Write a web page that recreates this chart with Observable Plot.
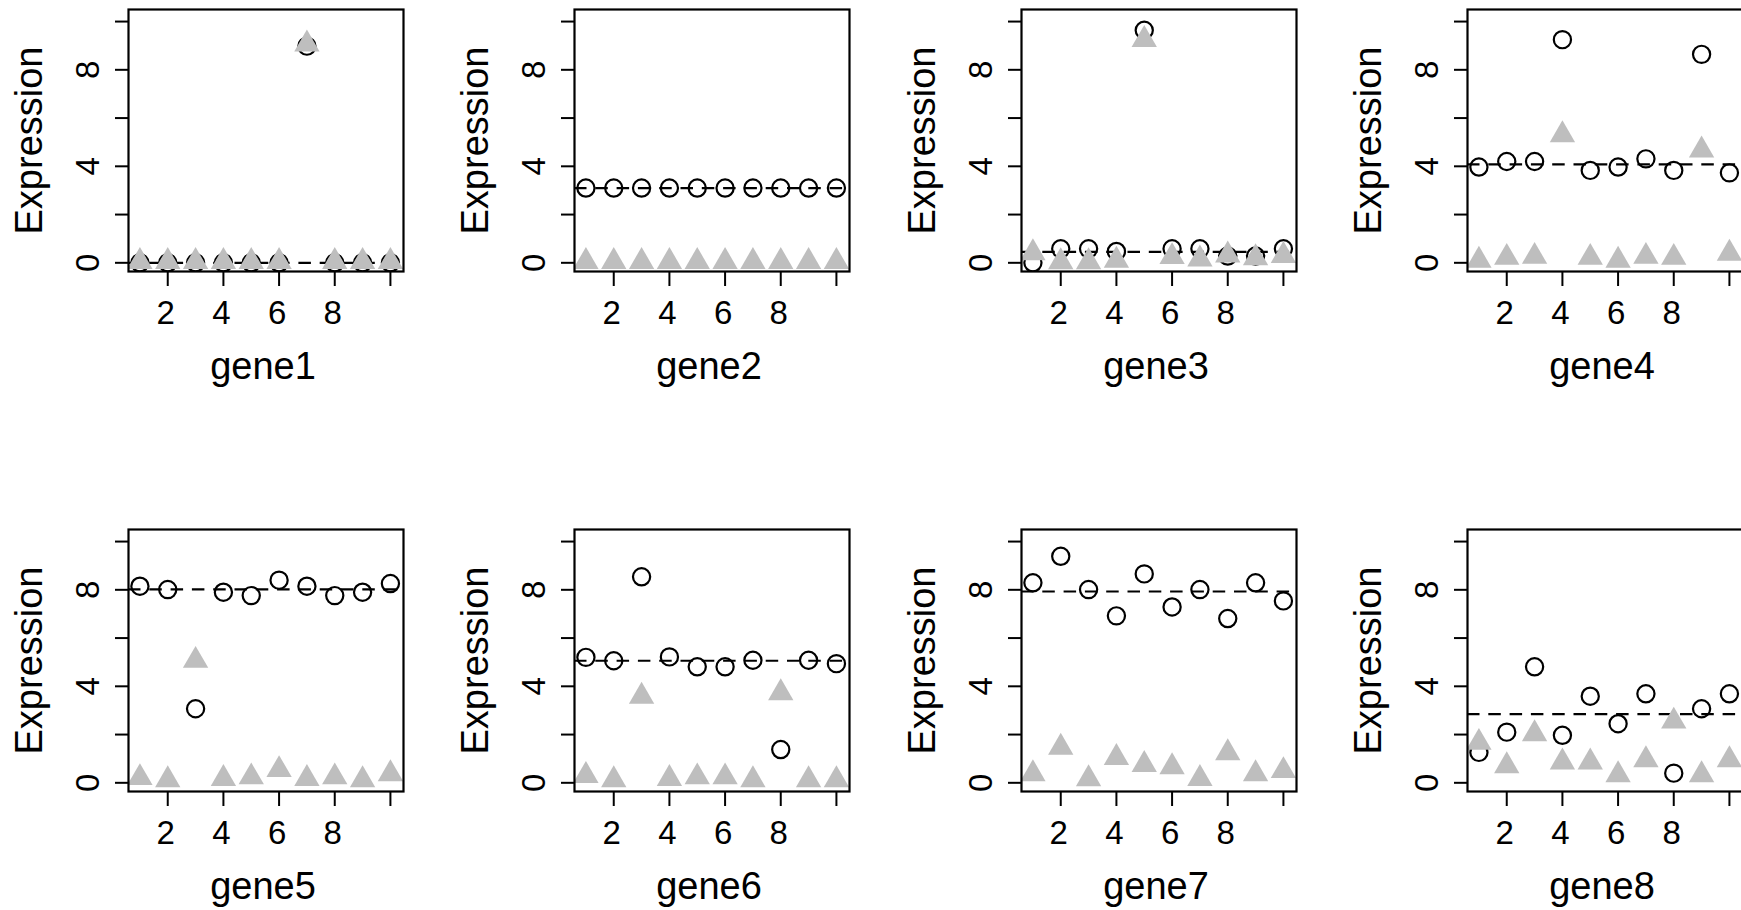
<!DOCTYPE html>
<html>
<head>
<meta charset="utf-8">
<script src="https://cdn.jsdelivr.net/npm/d3@7"></script>
<script src="https://cdn.jsdelivr.net/npm/@observablehq/plot@0.6"></script>
<style>
  html, body { margin: 0; padding: 0; background: #ffffff; overflow: hidden; width: 1741px; height: 910px; }
  #wrap { position: relative; width: 1741px; height: 910px; overflow: hidden; background: #ffffff; }
  .panel { position: absolute; width: 446px; height: 440px; }
  .panel svg { max-width: none !important; }
</style>
</head>
<body>
<div id="wrap"></div>
<script>
// ---- data ----
const genes = ["gene1", "gene2", "gene3", "gene4", "gene5", "gene6", "gene7", "gene8"];
const sampleIndex = [1, 2, 3, 4, 5, 6, 7, 8, 9, 10];

const gene1Circle = [0, 0, 0, 0, 0, 0, 8.98, 0, 0, 0];
const gene1Triangle = [0.05, 0.05, 0.05, 0.05, 0.05, 0.05, 9.06, 0.05, 0.05, 0.05];
const gene2Circle = [3.1, 3.1, 3.1, 3.1, 3.1, 3.1, 3.1, 3.1, 3.1, 3.1];
const gene2Triangle = [0.05, 0.05, 0.05, 0.05, 0.05, 0.05, 0.05, 0.05, 0.05, 0.05];
const gene3Circle = [0.0, 0.58, 0.58, 0.47, 9.64, 0.58, 0.58, 0.28, 0.28, 0.58];
const gene3Triangle = [0.41, 0.04, 0.04, 0.1, 9.25, 0.25, 0.15, 0.32, 0.2, 0.3];
const gene4Circle = [3.97, 4.2, 4.2, 9.25, 3.83, 3.97, 4.31, 3.83, 8.64, 3.73];
const gene4Triangle = [0.1, 0.22, 0.26, 5.3, 0.22, 0.1, 0.26, 0.22, 4.67, 0.39];
const gene5Circle = [8.15, 8.01, 3.07, 7.9, 7.76, 8.4, 8.15, 7.76, 7.9, 8.26];
const gene5Triangle = [0.21, 0.12, 5.07, 0.17, 0.24, 0.54, 0.17, 0.24, 0.12, 0.37];
const gene6Circle = [5.2, 5.06, 8.54, 5.22, 4.81, 4.81, 5.08, 1.38, 5.08, 4.94];
const gene6Triangle = [0.3, 0.12, 3.58, 0.17, 0.24, 0.24, 0.12, 3.73, 0.12, 0.12];
const gene7Circle = [8.29, 9.39, 8.01, 6.92, 8.66, 7.29, 8.01, 6.81, 8.29, 7.54];
const gene7Triangle = [0.37, 1.47, 0.16, 1.04, 0.75, 0.66, 0.17, 1.24, 0.37, 0.5];
const gene8Circle = [1.26, 2.1, 4.81, 1.97, 3.59, 2.45, 3.69, 0.4, 3.07, 3.69];
const gene8Triangle = [1.67, 0.7, 2.03, 0.86, 0.86, 0.33, 0.95, 2.55, 0.33, 0.95];

const dashedLevel = [0, 3.1, 0.45, 4.08, 8.02, 5.06, 7.93, 2.85];

const yTicks = [0, 2, 4, 6, 8, 10];
const yTickLabels = [0, 4, 8];
const xTicks = [2, 4, 6, 8, 10];
const xTickLabels = [2, 4, 6, 8];
const yAxisTitle = "Expression";

const circleSeries = [gene1Circle, gene2Circle, gene3Circle, gene4Circle, gene5Circle, gene6Circle, gene7Circle, gene8Circle];
const triangleSeries = [gene1Triangle, gene2Triangle, gene3Triangle, gene4Triangle, gene5Triangle, gene6Triangle, gene7Triangle, gene8Triangle];

// ---- drawing ----
const FONT = "'Liberation Sans', Arial, Helvetica, sans-serif";
const wrap = document.getElementById("wrap");
const colStep = 446.45, rowStep = 520;

genes.forEach((g, k) => {
  const col = k % 4, row = Math.floor(k / 4);
  const circles = sampleIndex.map((s, i) => ({s, v: circleSeries[k][i]}));
  const tris = sampleIndex.map((s, i) => ({s, v: triangleSeries[k][i]}));
  const chart = Plot.plot({
    width: 446,
    height: 440,
    marginLeft: 128,
    marginRight: 43,
    marginTop: 9,
    marginBottom: 169,
    x: {domain: [0.59, 10.47]},
    y: {domain: [-0.36, 10.5]},
    style: {fontFamily: FONT, background: "transparent", overflow: "visible", maxWidth: "none", color: "black"},
    marks: [
      Plot.axisY({ticks: yTicks, tickSize: 13, stroke: "black", strokeWidth: 2, fill: "none", label: null}),
      Plot.axisX({ticks: xTicks, tickSize: 15, stroke: "black", strokeWidth: 2, fill: "none", label: null}),
      Plot.text(yTickLabels, {y: d => d, text: d => String(d), frameAnchor: "left", dx: -30, rotate: -90, lineAnchor: "bottom", textAnchor: "middle", fontSize: 33, fill: "black"}),
      Plot.text(xTickLabels, {x: d => d, text: d => String(d), frameAnchor: "bottom", dx: -2, dy: 52, lineAnchor: "bottom", textAnchor: "middle", fontSize: 33, fill: "black"}),
      Plot.text([g], {text: d => d, frameAnchor: "bottom", dx: -3, dy: 107, lineAnchor: "bottom", textAnchor: "middle", fontSize: 38, fill: "black"}),
      Plot.text([yAxisTitle], {text: d => d, frameAnchor: "left", dx: -87, rotate: -90, lineAnchor: "bottom", textAnchor: "middle", fontSize: 38, fill: "black"}),
      Plot.dot(circles, {x: "s", y: "v", r: 8.6, stroke: "black", strokeWidth: 2.2, fill: "none", clip: true}),
      Plot.ruleY([dashedLevel[k]], {stroke: "black", strokeWidth: 2.2, strokeDasharray: "12.5,8.8"}),
      Plot.dot(tris, {x: "s", y: "v", symbol: "triangle", r: 9.4, fill: "#BEBEBE", stroke: "none", clip: true}),
      Plot.frame({stroke: "black", strokeWidth: 2.2})
    ]
  });
  const div = document.createElement("div");
  div.className = "panel";
  div.style.left = Math.round(col * colStep) + "px";
  div.style.top = (row * rowStep) + "px";
  div.appendChild(chart);
  wrap.appendChild(div);
});
</script>
</body>
</html>
